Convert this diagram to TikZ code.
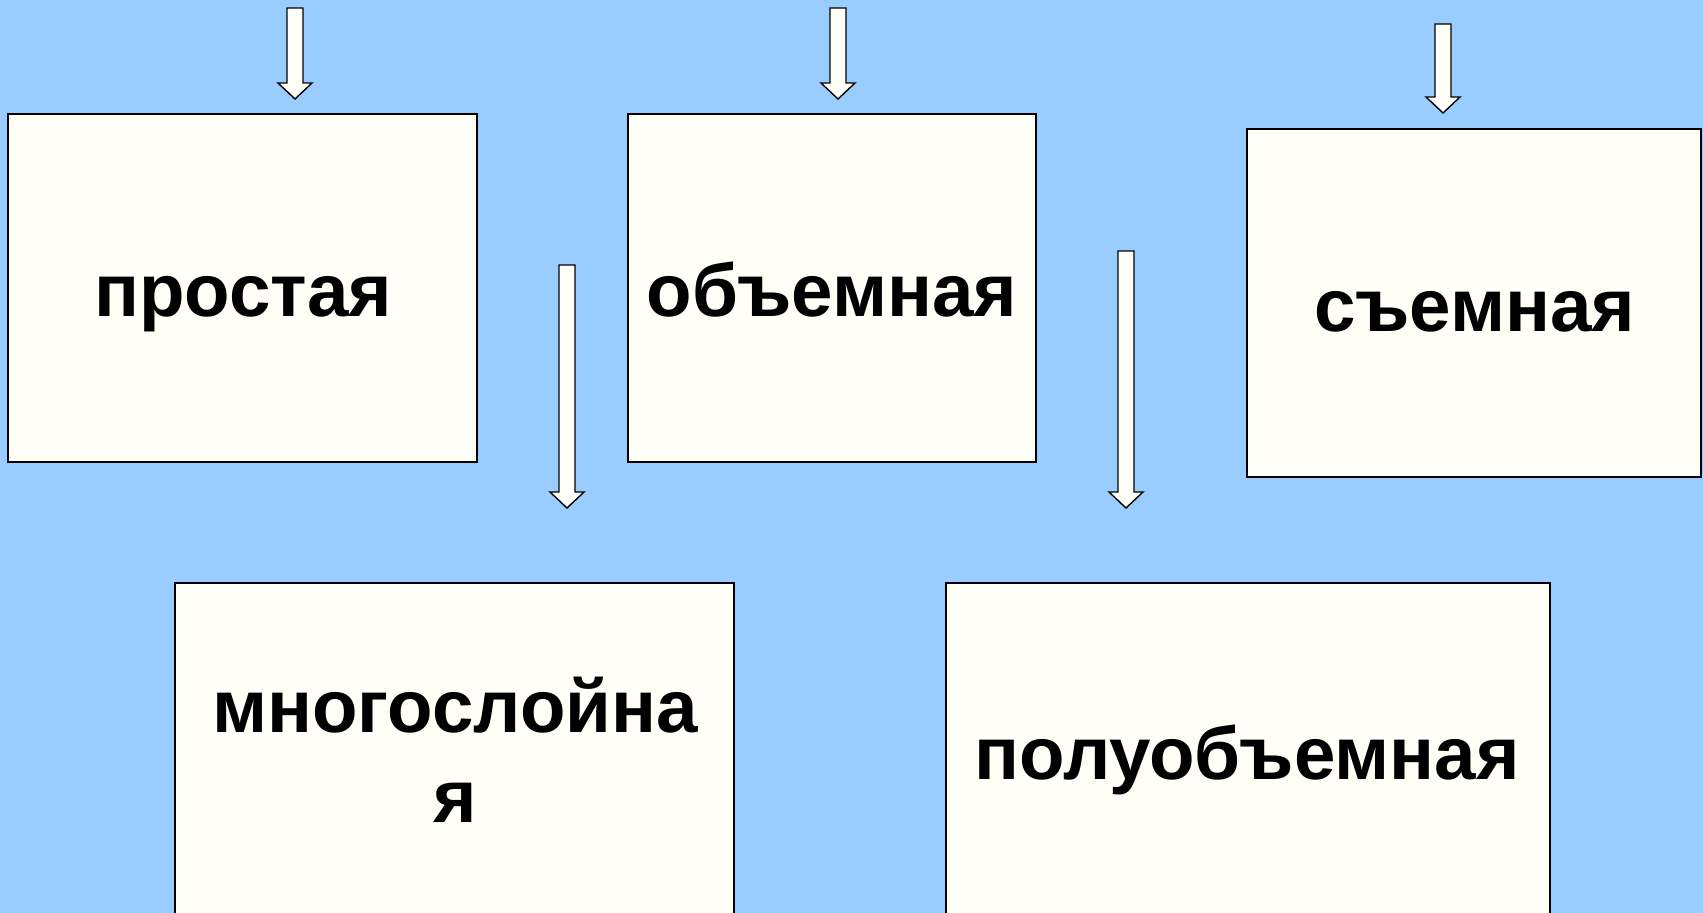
\documentclass[tikz,border=0pt]{standalone}
\usepackage{fontspec}
\setmainfont{Liberation Sans}
\usetikzlibrary{calc}
\definecolor{sky}{HTML}{99CCFF}
\definecolor{ivory}{HTML}{FFFFF7}
\definecolor{ink}{HTML}{000000}

% hollow block arrow from (#1) down to tip (#2)
\newcommand{\blockarrow}[2]{%
  \draw[barrow] ($(#1)+(-8,0)$) -- ($(#2)+(-8,-16)$) -- ($(#2)+(-17,-16)$) -- (#2)
    -- ($(#2)+(17,-16)$) -- ($(#2)+(8,-16)$) -- ($(#1)+(8,0)$) -- cycle;}

\begin{document}
\begin{tikzpicture}[
  x=1pt,y=-1pt,
  box/.style={draw=ink, line width=2pt, fill=ivory, inner sep=0pt, minimum height=348pt},
  word/.style={font=\fontsize{74.5}{90}\selectfont\bfseries, text=ink, inner sep=0pt, anchor=base, align=center},
  barrow/.style={draw=ink, line width=1.4pt, fill=ivory, line join=miter},
]
\clip (0,0) rectangle (1703,913);
\fill[sky] (0,0) rectangle (1703,913);
% boxes
\node[box, minimum width=469pt] (simple) at (242.5,288) {};
\node[box, minimum width=408pt] (volume) at (832,288) {};
\node[box, minimum width=454pt] (remov) at (1474,303) {};
\node[box, minimum width=559pt, minimum height=350pt] (multi) at (454.5,758) {};
\node[box, minimum width=604pt, minimum height=350pt] (semi) at (1248,758) {};
% labels
\node[word] (tsimple) at (243,316) {простая};
\node[word] (tvolume) at (832,316) {объемная};
\node[word] (tremov) at (1475,331) {съемная};
\node[word] (tmulti) at (455,822) {многослойна\\я};
\node[word] (tsemi) at (1247,779) {полуобъемная};
% arrow ends
\coordinate (s1) at (295,8);    \coordinate (e1) at (295,99);
\coordinate (s2) at (567,265);  \coordinate (e2) at (567,508);
\coordinate (s3) at (838,8);    \coordinate (e3) at (838,99);
\coordinate (s4) at (1126,251); \coordinate (e4) at (1126,508);
\coordinate (s5) at (1443,24);  \coordinate (e5) at (1443,113);
% arrows
\foreach \i in {1,...,5} {\blockarrow{s\i}{e\i}}
\end{tikzpicture}
\end{document}
